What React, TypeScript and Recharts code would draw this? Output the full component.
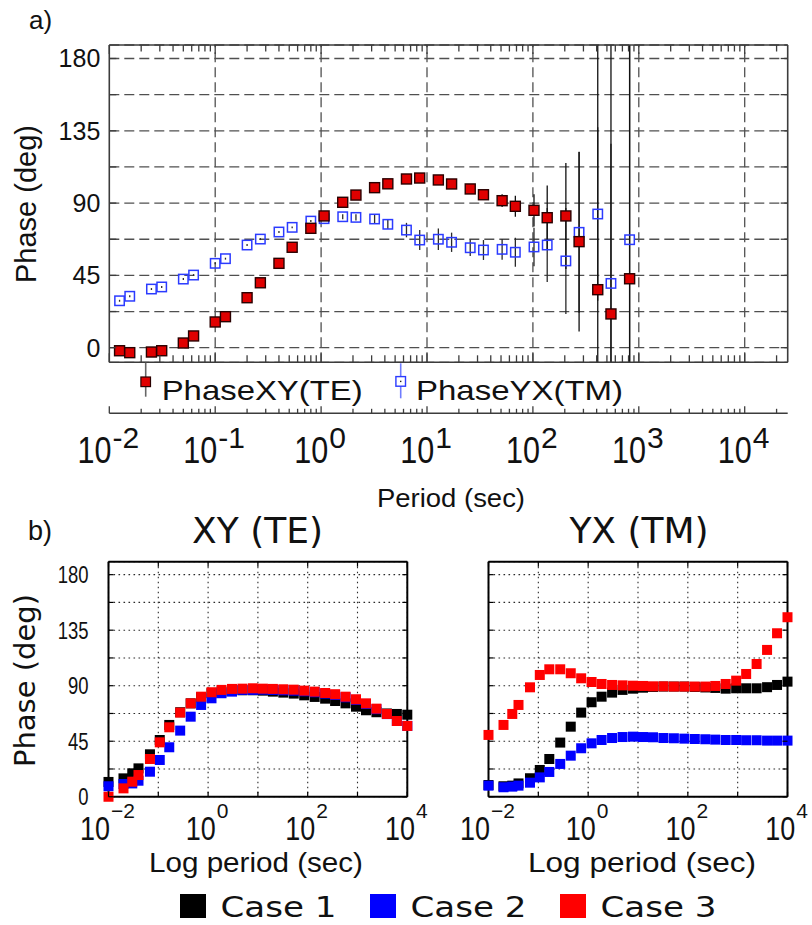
import React from 'react';
import { ScatterChart, Scatter, XAxis, YAxis, CartesianGrid, ReferenceLine, ErrorBar, Legend } from 'recharts';

const SANS = '"Liberation Sans", Arial, Helvetica, sans-serif';
const DEJA = '"DejaVu Sans", Verdana, sans-serif';
const INK = '#111';
const AXA = '#3c3c3c';
const GRIDA = '#505050';
const REDA = '#e00000';
const BLUEA = '#2b3bff';

// ---------- Panel a data ----------
const periodsA = [0.0125, 0.0156, 0.025, 0.03125, 0.05, 0.0625, 0.1, 0.125, 0.2, 0.267, 0.4, 0.533, 0.8, 1.067, 1.6, 2.133, 3.2, 4.267, 6.4, 8.533, 12.8, 17.07, 25.6, 34.13, 51.2, 68.27, 102.4, 136.5, 204.8, 273, 409.6, 546, 819];
const phaseXY = [-1.9, -3.1, -2.7, -1.9, 2.9, 7.3, 16.0, 19.3, 31.1, 40.4, 52.5, 62.5, 74.3, 82.0, 90.5, 95.0, 99.6, 102.0, 105.0, 105.6, 104.4, 101.9, 98.8, 95.2, 91.5, 88.0, 85.5, 80.9, 82.0, 66.0, 36.1, 21.0, 42.9];
const errXY = [0.6, 0.6, 0.6, 0.6, 0.6, 0.6, 0.6, 0.6, 0.6, 0.6, 0.6, 0.6, 0.6, 0.6, 0.6, 0.6, 0.8, 0.8, 1, 1.5, 1.5, 1.5, 2, 2, 4, 6.5, 10, 20, 33, 56, 250, 250, 250];
const phaseYX = [29.2, 32.0, 36.5, 37.8, 42.7, 45.2, 52.5, 55.4, 63.9, 67.6, 72.0, 74.9, 78.8, 80.3, 81.5, 81.1, 80.1, 76.8, 73.2, 67.0, 67.5, 65.6, 62.2, 60.8, 61.2, 59.4, 62.7, 63.9, 54.0, 71.8, 83.2, 40.0, 67.2];
const errYX = [0.6, 0.6, 0.6, 0.6, 0.6, 0.6, 0.6, 0.6, 0.6, 0.6, 0.6, 0.6, 0.6, 0.6, 1.5, 2, 2.5, 3, 4.5, 6.2, 6.7, 6, 5.2, 6.2, 6.5, 9, 12, 23, 33, 50, 54, 87, 250];

const decadesA = [0.01, 0.1, 1, 10, 100, 1000, 10000];
const xMaxA = 25470;
const yDomainA = [-9.1, 188.4];
const yTicksA = [0, 22.5, 45, 67.5, 90, 112.5, 135, 157.5, 180];

// ---------- Panel b data ----------
const periodsB = [0.01, 0.02, 0.03, 0.04, 0.068, 0.107, 0.166, 0.275, 0.447, 0.724, 1.17, 1.86, 3.02, 4.9, 7.94, 12.6, 20, 32.4, 52.5, 85.1, 138, 224, 355, 575, 933, 1480, 2400, 3890, 6170, 10000];
const case1XY = [12, 14.9, 19, 23, 34.4, 46, 58.2, 68.5, 75.7, 80.6, 83.9, 85.2, 86, 86.3, 86.3, 86, 85.2, 84.4, 83.6, 82.2, 80.9, 79.5, 77.6, 75.7, 73, 70.1, 68.5, 67.5, 67.1, 66.5];
const case2XY = [8.5, 10.3, 10.8, 13, 20.3, 29.8, 40.1, 53.6, 64.9, 74.4, 79.8, 83.9, 85.2, 86.6, 86.6, 86.8, 86.6, 86.3, 86, 85.5, 84.7, 83.6, 82.5, 80.6, 78.5, 75.2, 71, 67, 61.4, 57.4];
const case3XY = [0, 6.8, 12.2, 17.6, 30.6, 44.1, 56.3, 68.2, 75.7, 81.1, 84.7, 86.6, 87.4, 87.6, 87.9, 87.6, 87.4, 87.1, 86.8, 86, 85.2, 84.1, 83.1, 81.1, 79, 75.7, 71.4, 67.1, 61.4, 57.4];
const case1YX = [9.5, 8.5, 9, 10.8, 15, 21.7, 30.6, 43.9, 56.8, 68.2, 76.6, 81.1, 84.4, 86.6, 87.6, 88.4, 89, 89.3, 89.3, 89.3, 89, 88.6, 88.2, 87.6, 87.9, 87.9, 87.9, 88.8, 90.6, 93.3];
const case2YX = [9, 7.7, 8.2, 9, 11.4, 15.7, 20.1, 26.6, 33.3, 39.3, 43.3, 46, 47.6, 48.4, 48.7, 48.4, 48.2, 47.6, 47.4, 47.1, 46.8, 46.6, 46.3, 46, 46, 45.8, 45.8, 45.5, 45.5, 45.5];
const case3YX = [50.1, 58.2, 67.1, 74.4, 88.7, 98.7, 103.3, 103.3, 100.1, 96, 93, 91.4, 90.6, 90.3, 90, 89.8, 89.5, 89.5, 89.3, 89.3, 89.3, 89.3, 89.8, 91.4, 94.1, 99.5, 107.6, 119, 132.5, 145.5];

const decadesB = [0.01, 0.1, 1, 10, 100, 1000, 10000];
const yTicksB = [0, 22.5, 45, 67.5, 90, 112.5, 135, 157.5, 180];
const caseNames = ['Case 1', 'Case 2', 'Case 3'];
const caseColors = ['#000000', '#0000ff', '#ff0000'];

// ---------- helpers ----------
const minorTicks = (decs: number[], max: number) => {
  const out: number[] = [];
  decs.forEach((d) => {
    for (let m = 1; m <= 9; m++) {
      const v = Number((d * m).toPrecision(6));
      if (v <= max) out.push(v);
    }
  });
  return out;
};
const ticksA = minorTicks(decadesA, xMaxA);
const isDecade = (v: number) => {
  const e = Math.log10(v);
  return Math.abs(e - Math.round(e)) < 1e-6;
};

// error bars limited to the visible axis range (the plot clips them there)
const capErr = (y: number, e: number) => [Math.min(e, y - yDomainA[0]), Math.min(e, yDomainA[1] - y)];
const dataXY = periodsA.map((p, i) => ({ x: p, y: phaseXY[i], err: capErr(phaseXY[i], errXY[i]) }));
const dataYX = periodsA.map((p, i) => ({ x: p, y: phaseYX[i], err: capErr(phaseYX[i], errYX[i]) }));
const mk = (arr: number[]) => periodsB.map((p, i) => ({ x: p, y: arr[i] }));
const seriesXY = [mk(case1XY), mk(case2XY), mk(case3XY)];
const seriesYX = [mk(case1YX), mk(case2YX), mk(case3YX)];

const charW = (s: string, size: number) => {
  let w = 0;
  for (const c of s) {
    if (c === '-') w += 0.333;
    else if (c === '\u2212') w += 0.584;
    else w += 0.556;
  }
  return w * size;
};

const PowerLabel = ({ x, y, exp, main, mainW, sup, raise }: any) => {
  const supW = charW(exp, sup);
  const total = mainW + 1 + supW;
  const x0 = x - total / 2 - 1;
  return (
    <g fontFamily={SANS} fill={INK}>
      <text x={x0} y={y} fontSize={main} textLength={mainW} lengthAdjust="spacingAndGlyphs">10</text>
      <text x={x0 + mainW + 1} y={y - raise} fontSize={sup}>{exp}</text>
    </g>
  );
};

// ---------- Panel a ticks ----------
const TopTickA = (props: any) => {
  const { x, y, payload } = props;
  const major = isDecade(payload.value);
  return <line x1={x} x2={x} y1={y} y2={y + (major ? 9 : 6.5)} stroke={AXA} strokeWidth={1.3} />;
};
const FrameBottomTickA = (props: any) => {
  const { x, y, payload } = props;
  const major = isDecade(payload.value);
  return <line x1={x} x2={x} y1={y} y2={y - (major ? 9 : 7)} stroke={AXA} strokeWidth={1.3} />;
};
const LabelTickA = (props: any) => {
  const { x, y, payload } = props;
  const v = payload.value;
  const major = isDecade(v);
  return (
    <g>
      <line x1={x} x2={x} y1={y} y2={y - (major ? 7 : 4.5)} stroke={AXA} strokeWidth={1.3} />
      {major && (
        <PowerLabel x={x} y={y + 50} exp={String(Math.round(Math.log10(v)))} main={36} mainW={34} sup={30} raise={15} />
      )}
    </g>
  );
};
const LeftTickA = (props: any) => {
  const { x, y, payload } = props;
  const v = payload.value;
  return (
    <g>
      <line x1={x} x2={x + 7} y1={y} y2={y} stroke={AXA} strokeWidth={1.3} />
      {v % 45 === 0 && (
        <text x={x - 9} y={y + 9} textAnchor="end" fontSize={25} fontFamily={SANS} fill={INK}>{v}</text>
      )}
    </g>
  );
};
const RightTickA = (props: any) => {
  const { x, y } = props;
  return <line x1={x} x2={x - 7} y1={y} y2={y} stroke={AXA} strokeWidth={1.3} />;
};

const RedMarkA = (p: any) => (
  <rect x={p.cx - 5} y={p.cy - 5} width={10} height={10} fill={REDA} stroke="#2a0000" strokeWidth={1.4} />
);
const BlueMarkA = (p: any) => (
  <rect x={p.cx - 4.7} y={p.cy - 4.7} width={9.4} height={9.4} fill="none" stroke={BLUEA} strokeWidth={1.5} />
);
const NoMark = () => <g />;

const LegendA = () => (
  <svg width={812} height={50} style={{ display: 'block', overflow: 'visible' }}>
    <line x1={145.7} x2={145.7} y1={0.7} y2={34.7} stroke="#666" strokeWidth={1.6} />
    <rect x={140.9} y={15} width={9.6} height={9.6} fill={REDA} stroke="#2a0000" strokeWidth={1.2} />
    <text x={161.7} y={38} fontSize={28} fontFamily={SANS} fill={INK} textLength={201} lengthAdjust="spacingAndGlyphs">PhaseXY(TE)</text>
    <line x1={400.7} x2={400.7} y1={1.3} y2={36.3} stroke="#6f7cff" strokeWidth={1.6} />
    <rect x={395.9} y={14.6} width={9.6} height={9.6} fill="#fff" stroke={BLUEA} strokeWidth={1.4} />
    <rect x={400} y={18.7} width={1.4} height={1.4} fill="#222" />
    <text x={416} y={38} fontSize={28} fontFamily={SANS} fill={INK} textLength={207} lengthAdjust="spacingAndGlyphs">PhaseYX(TM)</text>
  </svg>
);

const ChartA = () => (
  <ScatterChart width={812} height={530} margin={{ top: 15, right: 0, bottom: 6.7, left: 0 }}>
    <CartesianGrid xAxisId="a" yAxisId="left" vertical={false} stroke={GRIDA} strokeWidth={1.3} strokeDasharray="10 5" />
    {decadesA.slice(1).map((d) => (
      <ReferenceLine key={d} x={d} xAxisId="a" yAxisId="left" stroke={GRIDA} strokeWidth={1.3} strokeDasharray="10 5" />
    ))}
    <XAxis xAxisId="top" orientation="top" type="number" scale="log" dataKey="x" domain={[0.01, xMaxA]} allowDataOverflow
      ticks={ticksA} interval={0} height={30} tickSize={0} tickMargin={0} tickLine={false} tick={TopTickA}
      axisLine={{ stroke: AXA, strokeWidth: 1.6 }} />
    <XAxis xAxisId="a" orientation="bottom" type="number" scale="log" dataKey="x" domain={[0.01, xMaxA]} allowDataOverflow
      ticks={ticksA} interval={0} height={51} tickSize={0} tickMargin={0} tickLine={false} tick={FrameBottomTickA}
      axisLine={{ stroke: AXA, strokeWidth: 1.6 }} />
    <XAxis xAxisId="b" orientation="bottom" type="number" scale="log" dataKey="x" domain={[0.01, xMaxA]} allowDataOverflow
      ticks={ticksA} interval={0} height={110} tickSize={0} tickMargin={0} tickLine={false} tick={LabelTickA}
      axisLine={{ stroke: AXA, strokeWidth: 1.6 }} />
    <YAxis yAxisId="left" type="number" dataKey="y" domain={yDomainA} allowDataOverflow ticks={yTicksA} interval={0}
      width={109.3} tickSize={0} tickMargin={0} tickLine={false} tick={LeftTickA} axisLine={{ stroke: AXA, strokeWidth: 1.6 }} />
    <YAxis yAxisId="right" orientation="right" type="number" dataKey="y" domain={yDomainA} allowDataOverflow ticks={yTicksA} interval={0}
      width={24.3} tickSize={0} tickMargin={0} tickLine={false} tick={RightTickA} axisLine={{ stroke: AXA, strokeWidth: 1.6 }} />
    <Scatter name="PhaseYX(TM)" xAxisId="a" yAxisId="left" data={dataYX} shape={BlueMarkA} isAnimationActive={false} />
    <Scatter name="PhaseXY(TE)" xAxisId="a" yAxisId="left" data={dataXY} shape={RedMarkA} isAnimationActive={false} />
    <Scatter name="errYX" xAxisId="a" yAxisId="left" data={dataYX} shape={NoMark} isAnimationActive={false} legendType="none">
      <ErrorBar dataKey="err" direction="y" width={0} stroke="#2a2a2a" strokeWidth={1.3} isAnimationActive={false} />
    </Scatter>
    <Scatter name="errXY" xAxisId="a" yAxisId="left" data={dataXY} shape={NoMark} isAnimationActive={false} legendType="none">
      <ErrorBar dataKey="err" direction="y" width={0} stroke="#111" strokeWidth={1.3} isAnimationActive={false} />
    </Scatter>
    <Legend verticalAlign="middle" align="center" content={LegendA}
      wrapperStyle={{ top: 362, left: 0, width: 812, height: 50 }} />
  </ScatterChart>
);

// ---------- Panel b ticks ----------
const TopTickB = (props: any) => {
  const { x, y } = props;
  return <line x1={x} x2={x} y1={y} y2={y + 5} stroke="#000" strokeWidth={1.2} />;
};
const BottomTickB = (props: any) => {
  const { x, y, payload } = props;
  const e = Math.round(Math.log10(payload.value));
  const lab = e % 2 === 0;
  const exp = e < 0 ? '\u2212' + String(-e) : String(e);
  return (
    <g>
      <line x1={x} x2={x} y1={y} y2={y - 5} stroke="#000" strokeWidth={1.2} />
      {lab && <PowerLabel x={x} y={y + 43.3} exp={exp} main={34} mainW={30} sup={21} raise={21.8} />}
    </g>
  );
};
const LeftTickBLabeled = (props: any) => {
  const { x, y, payload } = props;
  const v = payload.value;
  return (
    <g>
      <line x1={x} x2={x + 5} y1={y} y2={y} stroke="#000" strokeWidth={1.2} />
      {v % 45 === 0 && (
        <g transform={`translate(${x - 20},${y + 8.5}) scale(0.77,1)`}>
          <text x={0} y={0} textAnchor="end" fontSize={24} fontFamily={SANS} fill={INK}>{v}</text>
        </g>
      )}
    </g>
  );
};
const LeftTickB = (props: any) => {
  const { x, y } = props;
  return <line x1={x} x2={x + 5} y1={y} y2={y} stroke="#000" strokeWidth={1.2} />;
};
const RightTickB = (props: any) => {
  const { x, y } = props;
  return <line x1={x} x2={x - 5} y1={y} y2={y} stroke="#000" strokeWidth={1.2} />;
};
const squareB = (color: string) => (p: any) => (
  <rect x={p.cx - 5} y={p.cy - 5} width={10} height={10} fill={color} />
);

const ChartB = ({ which }: { which: string }) => {
  const isLeft = which === 'xy';
  const series = isLeft ? seriesXY : seriesYX;
  const w = isLeft ? 445 : 432;
  const mr = isLeft ? 36.7 : 23.5;
  const frame = { stroke: '#000', strokeWidth: 2 };
  return (
    <ScatterChart width={w} height={400} margin={{ top: 60.7, right: mr, bottom: 43.25, left: 0 }}>
      <CartesianGrid xAxisId="bottom" yAxisId="left" stroke="#2a2a2a" strokeWidth={1.1} strokeDasharray="1.6 3.4" />
      <XAxis xAxisId="top" orientation="top" type="number" scale="log" dataKey="x" domain={[0.01, 10000]} allowDataOverflow
        ticks={decadesB} interval={0} height={1} tickSize={0} tickMargin={0} tickLine={false} tick={TopTickB} axisLine={frame} />
      <XAxis xAxisId="bottom" orientation="bottom" type="number" scale="log" dataKey="x" domain={[0.01, 10000]}
        ticks={decadesB} interval={0} height={60} tickSize={0} tickMargin={0} tickLine={false} tick={BottomTickB} axisLine={frame} />
      <YAxis yAxisId="left" type="number" dataKey="y" domain={[0, 190.5]} ticks={yTicksB} interval={0} width={108.5}
        tickSize={0} tickMargin={0} tickLine={false} tick={isLeft ? LeftTickBLabeled : LeftTickB} axisLine={frame} />
      <YAxis yAxisId="right" orientation="right" type="number" dataKey="y" domain={[0, 190.5]} allowDataOverflow ticks={yTicksB} interval={0}
        width={1} tickSize={0} tickMargin={0} tickLine={false} tick={RightTickB} axisLine={frame} />
      {series.map((d, i) => (
        <Scatter key={i} name={caseNames[i]} xAxisId="bottom" yAxisId="left" data={d} shape={squareB(caseColors[i])} isAnimationActive={false} />
      ))}
    </ScatterChart>
  );
};

export default function App() {
  return (
    <div style={{ position: 'absolute', left: 0, top: 0, width: 812, height: 925, background: '#fff', overflow: 'hidden' }}>
      <div style={{ position: 'absolute', left: 0, top: 0 }}><ChartA /></div>
      <div style={{ position: 'absolute', left: 0, top: 500 }}><ChartB which="xy" /></div>
      <div style={{ position: 'absolute', left: 380, top: 500 }}><ChartB which="yx" /></div>
      <svg width={812} height={925} style={{ position: 'absolute', left: 0, top: 0, pointerEvents: 'none' }}>
        <text x={29} y={29} fontSize={26} fontFamily={SANS} fill={INK}>a)</text>
        <text transform="translate(36,204) rotate(-90)" textAnchor="middle" fontSize={29} fontFamily={SANS} fill={INK}>Phase (deg)</text>
        <text x={451} y={507} textAnchor="middle" fontSize={26} fontFamily={SANS} fill={INK} textLength={148} lengthAdjust="spacingAndGlyphs">Period (sec)</text>
        <text x={28} y={540} fontSize={27} fontFamily={SANS} fill={INK}>b)</text>
        <text x={257.5} y={543.3} textAnchor="middle" fontSize={36} fontFamily={DEJA} fill={INK}>XY (TE)</text>
        <text x={639} y={543.3} textAnchor="middle" fontSize={36} fontFamily={DEJA} fill={INK}>YX (TM)</text>
        <text transform="translate(35,680.5) rotate(-90)" textAnchor="middle" fontSize={29} fontFamily={DEJA} fill={INK}>Phase (deg)</text>
        <text x={256} y={871.7} textAnchor="middle" fontSize={28} fontFamily={SANS} fill={INK} textLength={214} lengthAdjust="spacingAndGlyphs">Log period (sec)</text>
        <text x={642} y={871.7} textAnchor="middle" fontSize={28} fontFamily={SANS} fill={INK} textLength={228} lengthAdjust="spacingAndGlyphs">Log period (sec)</text>
        {caseNames.map((n, i) => (
          <g key={n}>
            <rect x={180 + i * 190} y={894} width={26} height={24} fill={caseColors[i]} />
            <text x={220.5 + i * 190} y={917.3} fontSize={28} fontFamily={DEJA} fill={INK} textLength={116} lengthAdjust="spacingAndGlyphs">{n}</text>
          </g>
        ))}
      </svg>
    </div>
  );
}
